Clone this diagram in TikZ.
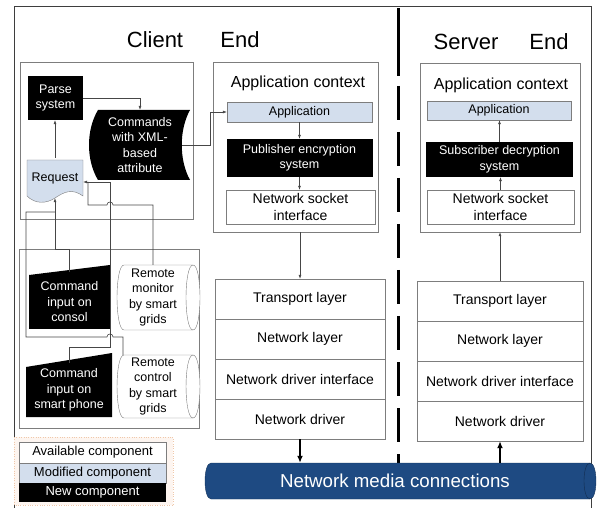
\documentclass[tikz,border=0pt]{standalone}
\usepackage{fontspec}
\setmainfont{Liberation Sans}
\usetikzlibrary{arrows.meta}
\definecolor{modblue}{RGB}{211,222,237}
\definecolor{barblue}{RGB}{30,74,130}
\definecolor{edgegray}{RGB}{125,125,125}
\definecolor{linegray}{RGB}{70,70,70}
\definecolor{legendpeach}{RGB}{253,245,240}
\definecolor{legendedge}{RGB}{240,200,170}
\begin{document}
\begin{tikzpicture}[x=1pt,y=-1pt,
  every node/.style={font=\fontsize{12.5}{15.5}\selectfont,align=center,inner sep=0pt},
  availbox/.style={draw=edgegray,fill=white},
  modbox/.style={draw=edgegray,fill=modblue},
  newbox/.style={fill=black,text=white},
  layerbox/.style={draw=edgegray,fill=white,font=\fontsize{14}{17}\selectfont},
  titletext/.style={font=\fontsize{22}{26}\selectfont},
  ctxtext/.style={font=\fontsize{16}{19}\selectfont},
  conn/.style={draw=linegray,line width=0.6pt,-{Latex[length=4pt,width=3pt]}},
  wire/.style={draw=linegray,line width=0.6pt},
  thickconn/.style={draw=black,line width=1.8pt,-{Latex[length=7pt,width=6pt]}}]
\useasboundingbox (0,0) rectangle (598,508);
% frame and divider
\draw[edgegray!50!black] (14,508) -- (14,6) -- (591,6) -- (591,508);
\draw[line width=3pt] (398,8) -- (398,76);
\draw[line width=3pt,dash pattern=on 34pt off 12pt] (398,86) -- (398,463);
\node[titletext] (clienttitle) at (155,40) {Client};
\node[titletext] (clientend) at (240,40) {End};
\node[titletext] (servertitle) at (466,42) {Server};
\node[titletext] (serverend) at (549,42) {End};

% client input side
\draw[edgegray] (20,62) rectangle (193,219);
\draw[edgegray] (19,249) rectangle (199,428);
\node[newbox,minimum width=55pt,minimum height=44pt] (parse) at (55.5,98) {Parse\\system};
\fill (98,110) -- (190,110) .. controls (179,130) and (179,160) .. (190,180) -- (98,180) .. controls (86,160) and (86,130) .. (98,110);
\node[text=white,minimum width=84pt,minimum height=70pt] (cmds) at (140,145) {Commands\\with XML-\\based\\attribute};
\filldraw[fill=modblue,draw=edgegray] (27,160) -- (83,160) -- (83,196) .. controls (72,188) and (64,192) .. (55,198) .. controls (46,204) and (35,204) .. (27,196) -- cycle;
\node[minimum width=56pt,minimum height=40pt] (request) at (55,178) {Request};
\fill (29,275) -- (110,265) -- (110,329) -- (29,329) -- cycle;
\node[text=white,minimum width=81pt,minimum height=60pt] (consol) at (69.5,302) {Command\\input on\\consol};
\fill (26,367) -- (112,353) -- (112,417) -- (26,417) -- cycle;
\node[text=white,minimum width=86pt,minimum height=54pt] (phone) at (69,390) {Command\\input on\\smart phone};
\filldraw[fill=white,draw=edgegray] (124,265) -- (193,265) .. controls (202.3,265) and (202.3,330) .. (193,330) -- (124,330) .. controls (114.7,330) and (114.7,265) .. (124,265) -- cycle;
\draw[edgegray] (193,265) .. controls (183.7,265) and (183.7,330) .. (193,330);
\node[minimum width=60pt,minimum height=65pt] (monitor) at (153,297.5) {Remote\\monitor\\by smart\\grids};
\filldraw[fill=white,draw=edgegray] (124,355) -- (193,355) .. controls (202.3,355) and (202.3,418) .. (193,418) -- (124,418) .. controls (114.7,418) and (114.7,355) .. (124,355) -- cycle;
\draw[edgegray] (193,355) .. controls (183.7,355) and (183.7,418) .. (193,418);
\node[minimum width=60pt,minimum height=63pt] (control) at (153,386.5) {Remote\\control\\by smart\\grids};

\draw[conn] (parse.east) -| (cmds.north);
\draw[conn] (request.north) -- (request.north |- parse.south);
\draw[conn] (consol.north) -- (69.5,249) -- (55,249) -- (request.south);
\draw[wire] ([xshift=-30pt]control.north) -- (123,337) -- (113,337) .. controls (113,333) and (107,333) .. (107,337) -- (26,337) -- (26,212) -- (55,212);
\draw[conn] (phone.north) -- (69,347) -- (110,347) -- (110,182) -- ([yshift=-4pt]request.east);
\draw[wire] (monitor.north) -- (153,205) -- (113,205) .. controls (113,201) and (107,201) .. (107,205) -- (88,205) -- (88,182);

% client application context
\node[availbox,minimum width=165pt,minimum height=170pt] (cctx) at (295.5,147) {};
\node[ctxtext] (cctxlabel) at (298,83) {Application context};
\node[modbox,minimum width=145pt,minimum height=20pt] (capp) at (299.5,112) {Application};
\node[newbox,minimum width=146pt,minimum height=38pt] (cpub) at (299.5,158) {Publisher encryption\\system};
\node[availbox,minimum width=149pt,minimum height=34pt,font=\fontsize{14}{17}\selectfont] (csock) at (300.5,207) {Network socket\\interface};
\draw[conn] (cmds.east) -- (210,145) |- (capp.west);
\draw[conn] (capp.south) -- (capp.south |- cpub.north);
\draw[conn] (cpub.south) -- (cpub.south |- csock.north);

% client layers
\node[layerbox,minimum width=170pt,minimum height=40pt] (ctrans) at (300,299) {Transport layer};
\node[layerbox,minimum width=170pt,minimum height=40pt] (cnet) at (300,339) {Network layer};
\node[layerbox,minimum width=170pt,minimum height=40pt] (cndi) at (300,379) {Network driver interface};
\node[layerbox,minimum width=170pt,minimum height=40pt] (cdrv) at (300,419) {Network driver};
\draw[conn] (ctrans.north |- cctx.south) -- (ctrans.north);

% server application context
\node[availbox,minimum width=160pt,minimum height=169pt] (sctx) at (500,147.5) {};
\node[ctxtext] (sctxlabel) at (501,85) {Application context};
\node[modbox,minimum width=144pt,minimum height=19pt] (sapp) at (499,110.5) {Application};
\node[newbox,minimum width=147pt,minimum height=35pt] (ssub) at (499.5,159.5) {Subscriber decryption\\system};
\node[availbox,minimum width=147pt,minimum height=34pt,font=\fontsize{14}{17}\selectfont] (ssock) at (500.5,207) {Network socket\\interface};
\draw[conn] (ssock.north) -- (ssock.north |- ssub.south);
\draw[conn] (ssub.north) -- (ssub.north |- sapp.south);

% server layers
\node[layerbox,minimum width=166pt,minimum height=40pt] (strans) at (500,301) {Transport layer};
\node[layerbox,minimum width=166pt,minimum height=40pt] (snet) at (500,341) {Network layer};
\node[layerbox,minimum width=166pt,minimum height=40pt] (sndi) at (500,381) {Network driver interface};
\node[layerbox,minimum width=166pt,minimum height=40pt] (sdrv) at (500,421) {Network driver};
\draw[conn] (strans.north) -- (strans.north |- sctx.south);

% network media
\filldraw[fill=barblue,draw=barblue!70!black] (211,463) -- (590,463) .. controls (598,463) and (598,499) .. (590,499) -- (211,499) .. controls (203,499) and (203,463) .. (211,463) -- cycle;
\draw[barblue!60!black] (590,463) .. controls (582,463) and (582,499) .. (590,499);
\node[text=white,font=\fontsize{18.7}{22}\selectfont,minimum width=370pt,minimum height=36pt] (bar) at (395,481) {Network media connections};
\draw[thickconn] (cdrv.south) -- (cdrv.south |- bar.north);
\draw[thickconn] (sdrv.south |- bar.north) -- (sdrv.south);

% legend
\filldraw[fill=legendpeach,draw=legendedge,dotted] (14,437) rectangle (173,505);
\node[availbox,minimum width=147pt,minimum height=21pt,font=\fontsize{13}{15}\selectfont] (lavail) at (92.5,452.5) {Available component};
\node[modbox,minimum width=147pt,minimum height=20pt,font=\fontsize{13}{15}\selectfont] (lmod) at (92.5,473) {Modified component};
\node[newbox,minimum width=147pt,minimum height=19pt,font=\fontsize{13}{15}\selectfont] (lnew) at (92.5,492.5) {New component};
\end{tikzpicture}
\end{document}
